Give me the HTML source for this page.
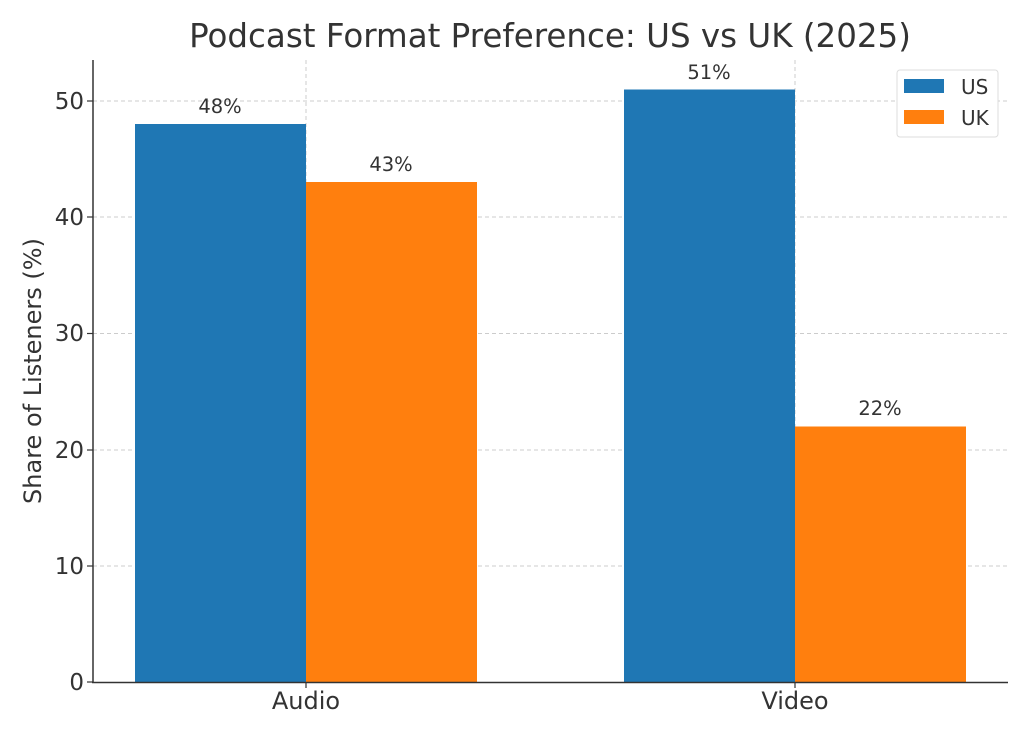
<!DOCTYPE html>
<html><head><meta charset="utf-8"><style>
body{margin:0;background:#fff;}
svg text{font-family:"DejaVu Sans","Liberation Sans",sans-serif;fill:#333;}
</style></head><body>
<svg width="1030" height="736" xmlns="http://www.w3.org/2000/svg">
<rect width="1030" height="736" fill="#fff"/>
<text x="550" y="47" font-size="32.5" text-anchor="middle">Podcast Format Preference: US vs UK (2025)</text>
<g stroke="#ccc" stroke-width="1" stroke-dasharray="4,3">
<line x1="93" x2="1008" y1="101" y2="101"/>
<line x1="93" x2="1008" y1="217" y2="217"/>
<line x1="93" x2="1008" y1="333.5" y2="333.5"/>
<line x1="93" x2="1008" y1="450" y2="450"/>
<line x1="93" x2="1008" y1="566" y2="566"/>
<line x1="306" x2="306" y1="60" y2="682"/>
<line x1="795" x2="795" y1="60" y2="682"/>
</g>
<rect x="135" y="124" width="171" height="558" fill="#1f77b4"/>
<rect x="306" y="182" width="171" height="500" fill="#ff7f0e"/>
<rect x="624" y="89.5" width="171" height="592.5" fill="#1f77b4"/>
<rect x="795" y="426.5" width="171" height="255.5" fill="#ff7f0e"/>
<g font-size="19.5" text-anchor="middle">
<text x="220" y="113">48%</text>
<text x="391" y="171">43%</text>
<text x="709" y="79">51%</text>
<text x="880" y="415">22%</text>
</g>
<line x1="93" x2="93" y1="60" y2="683" stroke="#333" stroke-width="1.5"/>
<line x1="92" x2="1008" y1="682.5" y2="682.5" stroke="#333" stroke-width="1.5"/>
<g stroke="#333" stroke-width="1.2">
<line x1="87" x2="93" y1="101" y2="101"/><line x1="87" x2="93" y1="217" y2="217"/>
<line x1="87" x2="93" y1="333.5" y2="333.5"/><line x1="87" x2="93" y1="450" y2="450"/>
<line x1="87" x2="93" y1="566" y2="566"/><line x1="87" x2="93" y1="682" y2="682"/>
<line x1="306" x2="306" y1="682" y2="688"/><line x1="795" x2="795" y1="682" y2="688"/>
</g>
<g font-size="23" text-anchor="end">
<text x="84" y="109">50</text><text x="84" y="225">40</text><text x="84" y="341">30</text>
<text x="84" y="458">20</text><text x="84" y="574">10</text><text x="84" y="690">0</text>
</g>
<g font-size="24" text-anchor="middle">
<text x="306" y="709">Audio</text><text x="795" y="709">Video</text>
</g>
<text transform="translate(41,371) rotate(-90)" font-size="24" text-anchor="middle">Share of Listeners (%)</text>
<rect x="897" y="70" width="101" height="67" rx="3" fill="#fff" stroke="#ddd"/>
<rect x="904" y="79" width="40" height="14" fill="#1f77b4"/>
<rect x="904" y="110" width="40" height="14" fill="#ff7f0e"/>
<text x="961" y="94" font-size="20">US</text>
<text x="961" y="125" font-size="20">UK</text>
</svg>
</body></html>
